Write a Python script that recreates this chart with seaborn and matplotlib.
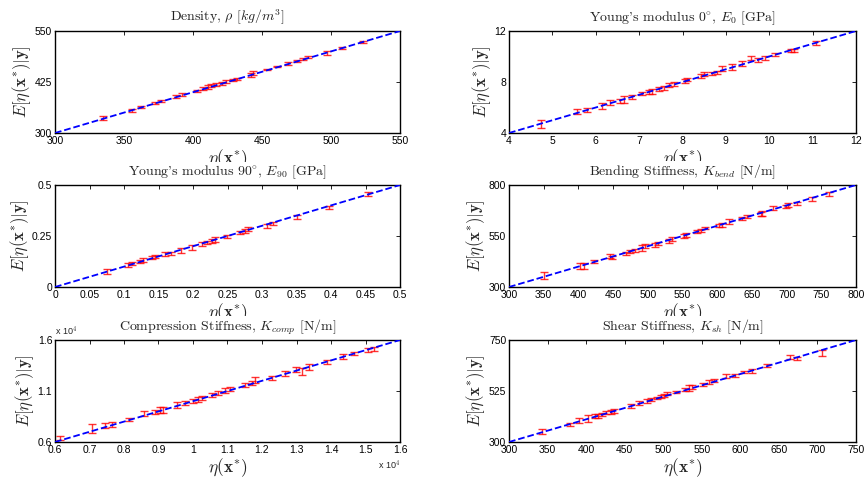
import numpy as np
import pandas as pd
import matplotlib
matplotlib.use('Agg')
import matplotlib.pyplot as plt
from matplotlib.ticker import FuncFormatter
import seaborn as sns

# ---- data (x = eta(x*), y = E[eta|y], e = half error bar) ----
dens_x = [334.5, 356, 362, 372.5, 377, 388, 392, 402.7, 407.5, 411, 413, 417, 421, 424, 429, 431.6,
          441.8, 443.7, 453.4, 460.6, 469, 475, 480, 483.6, 497, 507.7, 523.4]
dens_y = [337.6, 355.6, 363.7, 374, 378, 390, 394.8, 403, 409.5, 412.7, 417, 419, 421.7, 425.8, 430, 433,
          442, 446, 456, 462.6, 470.8, 476.5, 482, 486, 496, 508, 523]
dens_e = [5, 4, 3, 2, 2, 3, 3, 2, 3, 4, 4, 3, 3, 3, 3, 3, 5, 5, 2, 2, 3, 3, 3, 2, 4, 2, 3]

e0_x = [4.73, 5.57, 5.80, 6.14, 6.34, 6.57, 6.65, 6.84, 7.06, 7.23, 7.30, 7.46, 7.57, 7.69, 7.80,
        8.06, 8.11, 8.42, 8.49, 8.69, 8.80, 8.92, 9.15, 9.38, 9.57, 9.75, 9.91, 10.14, 10.49, 10.57, 11.08]
e0_y = [4.73, 5.67, 5.83, 6.12, 6.38, 6.51, 6.64, 6.82, 7.11, 7.24, 7.29, 7.42, 7.56, 7.74, 7.82,
        8.08, 8.16, 8.47, 8.60, 8.68, 8.73, 9.07, 9.18, 9.44, 9.86, 9.70, 9.91, 10.17, 10.48, 10.48, 11.08]
e0_e = [0.32, 0.2, 0.15, 0.25, 0.2, 0.15, 0.3, 0.15, 0.12, 0.15, 0.2, 0.15, 0.15, 0.15, 0.15,
        0.12, 0.12, 0.12, 0.15, 0.1, 0.12, 0.2, 0.2, 0.2, 0.15, 0.15, 0.15, 0.12, 0.12, 0.12, 0.15]

e90_x = [0.075, 0.106, 0.111, 0.123, 0.128, 0.140, 0.145, 0.159, 0.168, 0.183, 0.198, 0.213, 0.220,
         0.227, 0.232, 0.249, 0.268, 0.276, 0.279, 0.307, 0.316, 0.351, 0.397, 0.453]
e90_y = [0.078, 0.108, 0.116, 0.124, 0.132, 0.144, 0.149, 0.160, 0.165, 0.181, 0.193, 0.209, 0.217,
         0.225, 0.235, 0.247, 0.268, 0.276, 0.283, 0.301, 0.312, 0.345, 0.389, 0.454]
e90_e = [0.012, 0.008, 0.008, 0.006, 0.01, 0.008, 0.008, 0.01, 0.008, 0.012, 0.012, 0.01, 0.008,
         0.01, 0.012, 0.008, 0.006, 0.01, 0.01, 0.01, 0.008, 0.01, 0.008, 0.01]

bend_x = [350, 403, 408, 422, 446, 449, 468, 475, 482, 492, 496, 510, 514, 531, 535, 552, 555, 571, 576,
          583, 603, 607, 617, 636, 643, 663, 665, 680, 699, 702, 715, 736, 761]
bend_y = [356, 405, 405, 424, 450, 444, 463, 473, 478, 490, 501, 506, 512, 525, 535, 552, 555, 571, 578,
          588, 601, 604, 620, 637, 645, 656, 661, 686, 694, 702, 710, 731, 754]
bend_e = [18, 15, 15, 8, 10, 8, 8, 8, 8, 14, 12, 10, 8, 10, 10, 10, 8, 8, 8,
          6, 8, 10, 12, 8, 8, 10, 12, 10, 8, 10, 8, 8, 10]

# compression stiffness, in units of 1e4 N/m
comp_x = [0.614, 0.706, 0.745, 0.766, 0.814, 0.859, 0.890, 0.904, 0.914, 0.953, 0.977, 1.001, 1.015,
          1.025, 1.056, 1.073, 1.093, 1.107, 1.151, 1.170, 1.180, 1.230, 1.267, 1.298, 1.315, 1.336,
          1.387, 1.436, 1.467, 1.508, 1.526]
comp_y = [0.636, 0.733, 0.765, 0.775, 0.823, 0.882, 0.898, 0.911, 0.911, 0.959, 0.979, 1.001, 1.017,
          1.030, 1.063, 1.082, 1.108, 1.121, 1.163, 1.179, 1.205, 1.228, 1.270, 1.315, 1.293, 1.335,
          1.383, 1.438, 1.471, 1.503, 1.516]
comp_e = [0.02, 0.04, 0.025, 0.025, 0.015, 0.025, 0.02, 0.03, 0.03, 0.03, 0.02, 0.02, 0.02,
          0.02, 0.02, 0.02, 0.025, 0.02, 0.02, 0.02, 0.03, 0.02, 0.025, 0.025, 0.035, 0.025,
          0.02, 0.02, 0.015, 0.02, 0.02]

sh_x = [343, 379, 391, 402, 412, 416, 421, 426, 432, 436, 458, 468, 479, 484, 492, 497, 501, 505, 516,
        528, 534, 537, 551, 559, 566, 582, 593, 605, 615, 635, 665, 673, 706]
sh_y = [347, 377, 395, 403, 415, 415, 422, 430, 433, 437, 459, 473, 481, 488, 494, 500, 505, 514, 520,
        532, 539, 543, 553, 564, 572, 590, 593, 609, 612, 638, 674, 668, 692]
sh_e = [10, 5, 10, 15, 8, 8, 8, 8, 8, 8, 8, 8, 8, 8, 6, 6, 8, 8, 6,
        8, 12, 8, 6, 8, 6, 8, 6, 6, 8, 8, 10, 8, 12]

titles = ["Density, $\\rho$ $[kg/m^3]$",
          "Young's modulus 0$^{\\circ}$, $E_0$ [GPa]",
          "Young's modulus 90$^{\\circ}$, $E_{90}$ [GPa]",
          "Bending Stiffness, $K_{bend}$ [N/m]",
          "Compression Stiffness, $K_{comp}$ [N/m]",
          "Shear Stiffness, $K_{sh}$ [N/m]"]
limits = [(300, 550), (4, 12), (0, 0.5), (300, 800), (0.6, 1.6), (300, 750)]
xticks = [np.arange(300, 551, 50), np.arange(4, 12.1, 1), np.arange(0, 0.501, 0.05),
          np.arange(300, 801, 50), np.arange(0.6, 1.601, 0.1), np.arange(300, 751, 50)]
yticks = [[300, 425, 550], [4, 8, 12], [0, 0.25, 0.5], [300, 550, 800], [0.6, 1.1, 1.6], [300, 525, 750]]
series = [(dens_x, dens_y, dens_e), (e0_x, e0_y, e0_e), (e90_x, e90_y, e90_e),
          (bend_x, bend_y, bend_e), (comp_x, comp_y, comp_e), (sh_x, sh_y, sh_e)]

sns.set_theme(style='white')
plt.rcParams['font.family'] = ['Liberation Sans', 'DejaVu Sans']
plt.rcParams['mathtext.fontset'] = 'cm'

fig = plt.figure(figsize=(8.64, 4.83), dpi=100)
W, H = 864.0, 483.0
col_left = [55, 509]
col_width = [345, 347]
row_top = [31, 185, 340]
row_h = 102

ylab = r'$E[\eta(\mathbf{x}^{*})|\mathbf{y}]$'
xlab = r'$\eta(\mathbf{x}^{*})$'

for i in range(6):
    r, c = divmod(i, 2)
    ax = fig.add_axes([col_left[c] / W, 1 - (row_top[r] + row_h) / H, col_width[c] / W, row_h / H])
    x, y, e = series[i]
    lo, hi = limits[i]
    df = pd.DataFrame({'x': x, 'y': y, 'e': e})

    ax.errorbar(df['x'], df['y'], yerr=df['e'], fmt='none', ecolor='red', elinewidth=1.0,
                capsize=2.6, capthick=1.0, alpha=0.8, zorder=2)
    sns.lineplot(x=[lo, hi], y=[lo, hi], ax=ax, color='blue', linestyle='--', linewidth=1.3,
                 dashes=(3.5, 2.5), zorder=3)

    ax.set_xlim(lo, hi)
    ax.set_ylim(lo, hi)
    ax.set_xticks(xticks[i])
    ax.set_yticks(yticks[i])
    fmt = FuncFormatter(lambda v, p: f"{round(v, 4):g}")
    ax.xaxis.set_major_formatter(fmt)
    ax.yaxis.set_major_formatter(fmt)
    ax.tick_params(direction='in', length=3, width=0.6, top=True, right=True,
                   labelsize=7.5, colors='black', pad=2)
    for s in ax.spines.values():
        s.set_color('black')
        s.set_linewidth(1.0)
    ax.set_xlabel(xlab, fontsize=12.5, labelpad=1)
    ax.set_ylabel(ylab, fontsize=12, labelpad=1)
    ax.set_title(titles[i], fontsize=10, family='cmr10', color='#222222', pad=7,
                 bbox=dict(facecolor='white', edgecolor='none', pad=1.0))

    if i == 4:
        ax.text(0.0, 1.02, 'x 10$^4$', transform=ax.transAxes, fontsize=6.5, ha='left', va='bottom')
        ax.text(1.0, -0.16, 'x 10$^4$', transform=ax.transAxes, fontsize=6.5, ha='right', va='top')

fig.savefig('out.png', dpi=100)
